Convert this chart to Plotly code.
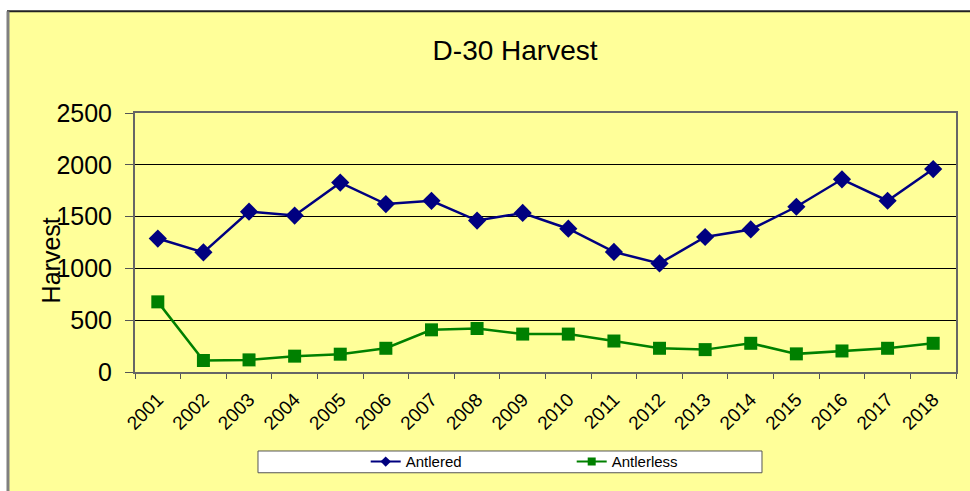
import plotly.graph_objects as go

years = [str(y) for y in range(2001, 2019)]
antlered = [1288, 1155, 1548, 1510, 1828, 1621, 1652, 1462, 1535,
            1383, 1159, 1048, 1303, 1376, 1595, 1860, 1653, 1959]
antlerless = [677, 111, 117, 153, 172, 229, 407, 420, 366,
              366, 299, 229, 216, 277, 175, 203, 229, 277]
y_ticks = [0, 500, 1000, 1500, 2000, 2500]

FONT = "Liberation Sans, Arial, sans-serif"
NAVY = "#000080"
GREEN = "#008000"

fig = go.Figure()

fig.add_trace(go.Scatter(
    x=years, y=antlered, name="Antlered", mode="lines+markers",
    line=dict(color=NAVY, width=2.5),
    marker=dict(symbol="diamond", size=14, color=NAVY),
    showlegend=False,
))
fig.add_trace(go.Scatter(
    x=years, y=antlerless, name="Antlerless", mode="lines+markers",
    line=dict(color=GREEN, width=2.5),
    marker=dict(symbol="square", size=13, color=GREEN),
    showlegend=False,
))
# legend entries with the small symbols used in the original legend
fig.add_trace(go.Scatter(
    x=[None], y=[None], name="Antlered", mode="lines+markers",
    line=dict(color=NAVY, width=2), marker=dict(symbol="diamond", size=8, color=NAVY),
))
fig.add_trace(go.Scatter(
    x=[None], y=[None], name="Antlerless", mode="lines+markers",
    line=dict(color=GREEN, width=2), marker=dict(symbol="square", size=8, color=GREEN),
))

# yellow chart area with its border, plus the white legend box
fig.add_shape(type="rect", xref="paper", yref="paper",
              x0=-0.1559, x1=1.03, y0=-0.47, y1=1.393,
              fillcolor="#FFFF99", line_width=0, layer="below")
fig.add_shape(type="line", xref="paper", yref="paper",
              x0=-0.1559, x1=1.03, y0=1.393, y1=1.393,
              line=dict(color="#222222", width=2))
fig.add_shape(type="line", xref="paper", yref="paper",
              x0=-0.1547, x1=-0.1547, y0=-0.47, y1=1.393,
              line=dict(color="#808080", width=3))
fig.add_shape(type="rect", xref="paper", yref="paper",
              x0=0.1498, x1=0.7637, y0=-0.389, y1=-0.305,
              fillcolor="white", line=dict(color="#555555", width=1))

fig.add_annotation(
    text="Harvest", textangle=-90, xref="paper", yref="paper",
    x=-0.1023, y=0.431, xanchor="center", yanchor="middle", showarrow=False,
    font=dict(family=FONT, size=25, color="black"),
)

fig.update_layout(
    width=970, height=491,
    paper_bgcolor="white", plot_bgcolor="white",
    margin=dict(l=135, r=14, t=113, b=116),
    title=dict(text="D-30 Harvest", x=0.531, xref="container",
               y=0.898, yref="container", xanchor="center", yanchor="middle",
               font=dict(family=FONT, size=28, color="black")),
    font=dict(family=FONT, color="black"),
    showlegend=True,
    legend=dict(orientation="h", x=0.281, y=-0.347, xanchor="left",
                yanchor="middle", bgcolor="rgba(0,0,0,0)",
                font=dict(family=FONT, size=15, color="black"),
                entrywidth=161, entrywidthmode="pixels"),
)

fig.update_xaxes(
    type="category", range=[-0.5, 17.5], tickangle=-45, tickfont=dict(size=19),
    ticks="outside", tickson="boundaries", ticklen=5, tickcolor="#555555",
    ticklabelstandoff=7,
    showgrid=False, showline=True, linecolor="#666666", linewidth=2,
    mirror=True,
)
fig.update_yaxes(
    range=[0, 2500], tickvals=y_ticks, tickfont=dict(size=25),
    ticks="outside", ticklen=8, tickcolor="#555555", ticklabelstandoff=8,
    showgrid=True, gridcolor="black", gridwidth=1, zeroline=False,
    showline=True, linecolor="#666666", linewidth=2, mirror=True,
)

# drop the page margin so the 970x491 figure fills the window exactly
fig.write_html(
    "out.html",
    config={"displayModeBar": False},
    post_script="document.body.style.margin='0';document.body.style.overflow='hidden';",
)
